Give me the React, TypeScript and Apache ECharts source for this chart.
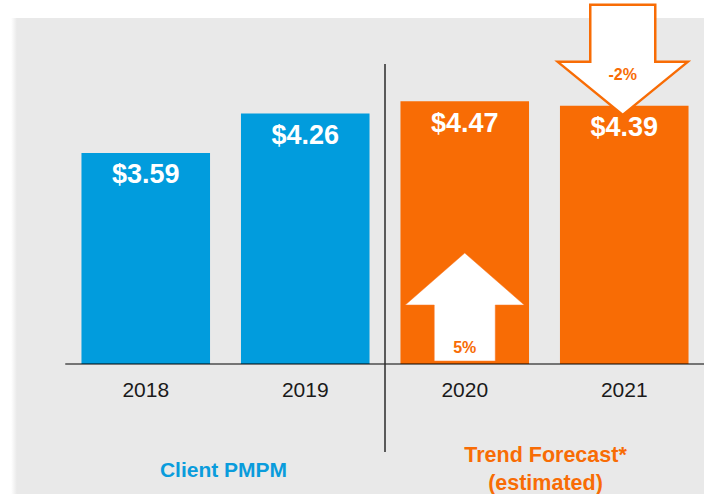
import React, { useEffect, useRef } from "react";
import * as echarts from "echarts";

const categories = ["2018", "2019", "2020", "2021"];
const values = [3.59, 4.26, 4.47, 4.39];
const barColors = ["#019cdd", "#019cdd", "#f86c05", "#f86c05"];
const groupLabels = ["Client PMPM", "Trend Forecast*\n(estimated)"];
const changeLabels = ["5%", "-2%"];

const BLUE = "#0a9cdc";
const ORANGE = "#f86c05";
const FONT = '"Liberation Sans", Arial, sans-serif';

export default function App() {
  const ref = useRef<HTMLDivElement>(null);
  useEffect(() => {
    if (!ref.current) return;
    const chart = echarts.init(ref.current, undefined, { renderer: "svg" });
    chart.setOption({
      animation: false,
      backgroundColor: "#ffffff",
      grid: { left: 66, right: -2, top: 70, bottom: 130 },
      xAxis: {
        type: "category",
        data: categories,
        z: 5,
        axisLine: { lineStyle: { color: "rgba(0,0,0,0.5)", width: 2 } },
        axisTick: { show: false },
        axisLabel: { fontSize: 21, color: "#1a1a1a", margin: 15, fontFamily: FONT },
      },
      yAxis: {
        type: "value",
        min: 0,
        max: 5,
        show: false,
        splitLine: { show: false },
      },
      series: [
        {
          type: "bar",
          barWidth: "80.6%",
          z: 2,
          data: values.map((v, i) => ({ value: v, itemStyle: { color: barColors[i] } })),
          label: {
            show: true,
            position: "insideTop",
            distance: 8,
            color: "#ffffff",
            fontSize: 27,
            fontWeight: "bold",
            fontFamily: FONT,
            formatter: (p: any) => "$" + Number(p.value).toFixed(2),
          },
        },
      ],
    });

    const px = (i: number, v: number) =>
      chart.convertToPixel({ gridIndex: 0 }, [categories[i], v]) as number[];
    const base = px(0, 0)[1];
    const xs = categories.map((_, i) => px(i, 0)[0]);
    const divX = (xs[1] + xs[2]) / 2;

    // up arrow in 2020 bar
    const ux = xs[2];
    const upApex = base - 111;
    const upHeadBase = upApex + 52;
    const upBottom = base - 3;
    const upPts = [
      [ux, upApex],
      [ux + 59.5, upHeadBase],
      [ux + 30.5, upHeadBase],
      [ux + 30.5, upBottom],
      [ux - 30.5, upBottom],
      [ux - 30.5, upHeadBase],
      [ux - 59.5, upHeadBase],
    ];

    // down arrow over 2021 bar
    const dx = xs[3] - 1.5;
    const dApex = px(3, values[3])[1] + 9;
    const dHeadBase = dApex - 53;
    const dTop = dApex - 110;
    const downPts = [
      [dx, dApex],
      [dx + 65, dHeadBase],
      [dx + 32.5, dHeadBase],
      [dx + 32.5, dTop],
      [dx - 32.5, dTop],
      [dx - 32.5, dHeadBase],
      [dx - 65, dHeadBase],
    ];

    chart.setOption({
      graphic: [
        {
          type: "rect",
          z: -10,
          silent: true,
          shape: { x: 15, y: 18, width: 720, height: 500 },
          style: { fill: "#e9e9e9" },
        },
        {
          type: "rect",
          z: -9,
          silent: true,
          shape: { x: 11, y: 18, width: 6, height: 500 },
          style: {
            fill: new echarts.graphic.LinearGradient(0, 0, 1, 0, [
              { offset: 0, color: "#ffffff" },
              { offset: 1, color: "#e9e9e9" },
            ]),
          },
        },
        {
          type: "line",
          z: 50,
          silent: true,
          shape: { x1: divX, y1: 64, x2: divX, y2: 452 },
          style: { stroke: "#2a2a2a", lineWidth: 1.5 },
        },
        {
          type: "polygon",
          z: 50,
          silent: true,
          shape: { points: upPts },
          style: { fill: "#ffffff", stroke: "rgba(248,120,40,0.5)", lineWidth: 1 },
        },
        {
          type: "text",
          z: 51,
          silent: true,
          style: {
            text: changeLabels[0],
            x: ux,
            y: base - 17,
            fill: ORANGE,
            font: `bold 16px ${FONT}`,
            align: "center",
            verticalAlign: "middle",
          },
        },
        {
          type: "polygon",
          z: 50,
          silent: true,
          shape: { points: downPts },
          style: { fill: "#ffffff", stroke: ORANGE, lineWidth: 2.5, lineJoin: "miter" },
        },
        {
          type: "text",
          z: 51,
          silent: true,
          style: {
            text: changeLabels[1],
            x: dx,
            y: dApex - 40,
            fill: ORANGE,
            font: `bold 16px ${FONT}`,
            align: "center",
            verticalAlign: "middle",
          },
        },
        {
          type: "text",
          z: 51,
          silent: true,
          style: {
            text: groupLabels[0],
            x: (xs[0] + xs[1]) / 2 - 2,
            y: 469,
            fill: BLUE,
            font: `bold 21px ${FONT}`,
            align: "center",
            verticalAlign: "middle",
          },
        },
        {
          type: "text",
          z: 51,
          silent: true,
          style: {
            text: groupLabels[1],
            x: (xs[2] + xs[3]) / 2 + 1,
            y: 469,
            fill: ORANGE,
            font: `bold 21.5px ${FONT}`,
            lineHeight: 28,
            align: "center",
            verticalAlign: "middle",
          },
        },
      ],
    });

    return () => chart.dispose();
  }, []);

  return (
    <div
      ref={ref}
      style={{ position: "absolute", left: 0, top: 0, width: 704, height: 494 }}
    />
  );
}
